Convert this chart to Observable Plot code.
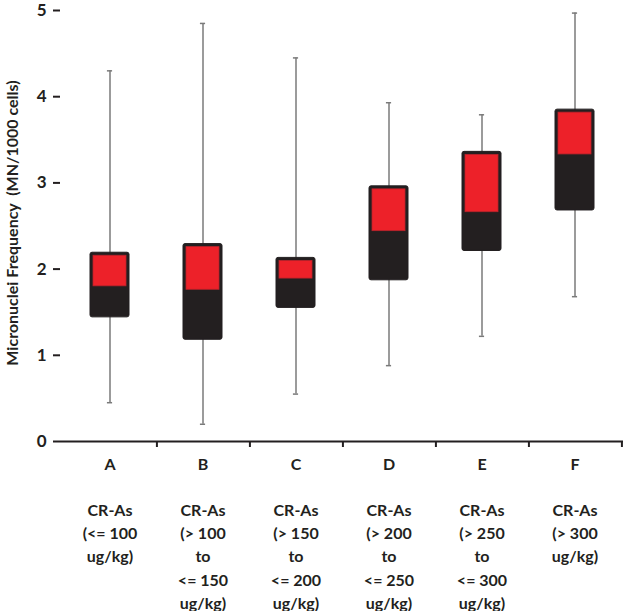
<!DOCTYPE html>
<html><head><meta charset="utf-8">
<script src="https://cdn.jsdelivr.net/npm/d3@7"></script>
<script src="https://cdn.jsdelivr.net/npm/@observablehq/plot@0.6"></script>
<style>body{margin:0;background:#fff} svg{display:block} svg text{font-weight:bold}</style>
</head><body><div id="chart"></div>
<script>
const categories = ["A", "B", "C", "D", "E", "F"];
const descriptions = [
  "CR-As\n(<= 100\nug/kg)",
  "CR-As\n(> 100\nto\n<= 150\nug/kg)",
  "CR-As\n(> 150\nto\n<= 200\nug/kg)",
  "CR-As\n(> 200\nto\n<= 250\nug/kg)",
  "CR-As\n(> 250\nto\n<= 300\nug/kg)",
  "CR-As\n(> 300\nug/kg)"
];
const mins    = [0.45, 0.20, 0.55, 0.88, 1.22, 1.68];
const q1s     = [1.44, 1.18, 1.55, 1.87, 2.21, 2.68];
const medians = [1.80, 1.76, 1.89, 2.44, 2.66, 3.33];
const q3s     = [2.19, 2.29, 2.13, 2.96, 3.36, 3.85];
const maxs    = [4.30, 4.85, 4.45, 3.93, 3.79, 4.97];
const yTicks  = [0, 1, 2, 3, 4, 5];
const yLabel  = "Micronuclei Frequency  (MN/1000 cells)";

const W = 625, H = 611, mL = 60, mR = 2, mT = 10, mB = 170;
const bw = (W - mL - mR) / categories.length;
const ink = "#231f20";

const data = categories.map((c, i) => ({
  cat: c, desc: descriptions[i], min: mins[i], q1: q1s[i],
  median: medians[i], q3: q3s[i], max: maxs[i]
}));

const chart = Plot.plot({
  width: W, height: H,
  marginLeft: mL, marginRight: mR, marginTop: mT, marginBottom: mB,
  style: {fontFamily: "Lato, 'Open Sans', sans-serif", fontWeight: "bold", color: ink, background: "#fff"},
  x: {domain: categories, padding: 0, axis: null},
  y: {domain: [0, 5], axis: null},
  marks: [
    Plot.ruleX(data, {x: "cat", y1: "min", y2: "max", stroke: "#7a7a7a", strokeWidth: 1.5}),
    Plot.tickY(data, {x: "cat", y: "max", stroke: "#7a7a7a", strokeWidth: 1.5, insetLeft: (bw - 6) / 2, insetRight: (bw - 6) / 2}),
    Plot.tickY(data, {x: "cat", y: "min", stroke: "#7a7a7a", strokeWidth: 1.5, insetLeft: (bw - 6) / 2, insetRight: (bw - 6) / 2}),
    Plot.barY(data, {x: "cat", y1: "q1", y2: "q3", fill: ink, stroke: ink, strokeWidth: 1, insetLeft: 27, insetRight: 27, rx: 2}),
    Plot.barY(data, {x: "cat", y1: "median", y2: "q3", fill: "#ed2129", stroke: "#b8232b", strokeWidth: 0.8, insetLeft: 30, insetRight: 30, insetTop: 3}),
    Plot.ruleY([0], {stroke: ink, strokeWidth: 2}),
    Plot.axisY({ticks: yTicks, tickSize: 7, tickPadding: 7, fontSize: 17, line: true, stroke: ink, strokeWidth: 2, label: null, tickFormat: d => d, fill: ink}),
    Plot.text([yLabel], {frameAnchor: "left", textAnchor: "middle", rotate: -90, dx: -48, dy: -3, fontSize: 16, fill: ink}),
    Plot.axisX({text: null, tickSize: 6, dx: bw / 2, stroke: ink, strokeWidth: 2, label: null}),
    Plot.axisX({tickSize: 0, tickPadding: 17, fontSize: 16, label: null, fill: ink}),
    Plot.text(data, {x: "cat", text: "desc", frameAnchor: "bottom", lineAnchor: "top", dy: 58, lineHeight: 1.45, fontSize: 16, fill: ink})
  ]
});
document.getElementById("chart").appendChild(chart);
</script>
</body></html>
